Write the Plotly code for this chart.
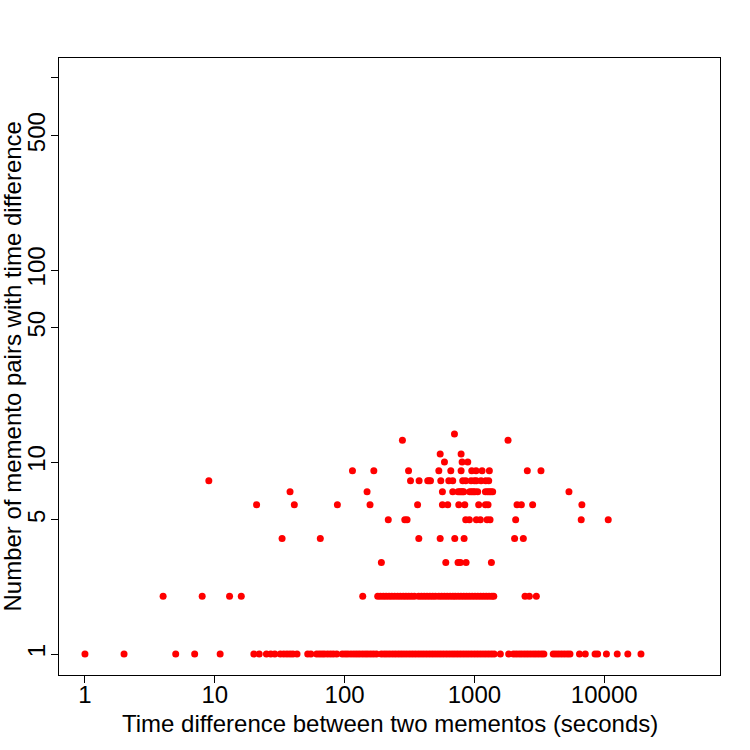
import plotly.graph_objects as go

# Time difference (seconds) for each observed count of memento pairs
count_1 = [1, 2, 5, 7, 11, 20, 22, 25, 27, 29, 32, 34, 36, 38, 40, 43, 52, 55,
           61, 64, 67, 70, 74, 78, 82, 87, 96, 101, 106, 112, 118, 124, 130, 137,
           144, 151, 159, 167, 176, 192, 202, 212, 223, 235, 247, 260, 273, 287,
           302, 318, 334, 351, 369, 388, 408, 429, 451, 474, 498, 524, 551, 579,
           609, 640, 673, 707, 743, 781, 821, 863, 907, 954, 1003, 1054, 1108,
           1165, 1225, 1288, 1354, 1420, 1585, 1837, 2000, 2100, 2210, 2320, 2440,
           2560, 2690, 2830, 2970, 3120, 3280, 3430, 4050, 4250, 4470, 4700, 4940,
           5200, 5450, 6450, 7150, 8500, 8900, 10400, 12600, 15200, 19200]
count_2 = [4, 8, 13, 16, 138, 180, 189, 199, 209, 220, 231, 243, 256, 269, 283,
           297, 312, 328, 345, 372, 391, 411, 432, 454, 477, 501, 532, 559, 588,
           618, 650, 683, 713, 750, 788, 828, 870, 915, 962, 1011, 1063, 1117,
           1174, 1234, 1297, 1363, 1410, 2455, 2650, 3000]
count_3 = [192, 602, 748, 780, 863, 1352]
count_4 = [33, 65, 373, 545, 706, 833, 2040, 2382]
count_5 = [217, 291, 303, 857, 915, 1036, 1112, 1252, 1320, 2079, 6650, 10740]
count_6 = [21, 41, 88, 157, 365, 567, 623, 758, 843, 1079, 1216, 1274, 2130,
           2300, 2810, 6730]
count_7 = [38, 149, 567, 681, 748, 770, 790, 810, 828, 920, 950, 980, 1010, 1060,
           1216, 1260, 1300, 1340, 1383, 5350]
count_8 = [9, 322, 375, 437, 448, 459, 551, 635, 681, 813, 857, 943, 1000, 1036,
           1125, 1222, 1289]
count_9 = [115, 168, 311, 532, 658, 790, 954, 1030, 1146, 1304, 2557, 3257]
count_10 = [588, 804, 889]
count_11 = [545, 790]
count_13 = [279, 1816]
count_14 = [702]

groups = {1: count_1, 2: count_2, 3: count_3, 4: count_4, 5: count_5, 6: count_6,
          7: count_7, 8: count_8, 9: count_9, 10: count_10, 11: count_11,
          13: count_13, 14: count_14}

xs, ys = [], []
for c, vals in groups.items():
    xs += vals
    ys += [c] * len(vals)

x_ticks = [1, 10, 100, 1000, 10000]
x_ticktext = ["1", "10", "100", "1000", "10000"]
y_ticks = [1, 5, 10, 50, 100, 500, 1000]
y_ticktext = ["1", "5", "10", "50", "100", "500", ""]

FONT = "Liberation Sans, Arial, sans-serif"
FS = 24

fig = go.Figure(go.Scatter(
    x=xs, y=ys, mode="markers",
    marker=dict(color="#ff0000", size=7, line=dict(width=0)),
    hoverinfo="x+y"))

fig.update_layout(
    width=750, height=750,
    margin=dict(l=59, r=30, t=58, b=75),
    paper_bgcolor="white", plot_bgcolor="white",
    showlegend=False,
    font=dict(family=FONT, size=FS, color="black"),
    xaxis=dict(type="log", range=[-0.2, 4.892], tickvals=x_ticks, ticktext=x_ticktext,
               ticks="outside", ticklen=7, tickcolor="black", tickwidth=1,
               ticklabelstandoff=-9,
               showline=True, linecolor="black", linewidth=1, mirror=True,
               showgrid=False, zeroline=False,
               tickfont=dict(family=FONT, size=FS, color="black")),
    yaxis=dict(type="log", range=[-0.109, 3.104], tickvals=y_ticks, ticktext=y_ticktext,
               ticks="outside", ticklen=7, tickcolor="black", tickwidth=1,
               ticklabelstandoff=-4,
               showline=True, linecolor="black", linewidth=1, mirror=True,
               showgrid=False, zeroline=False, tickangle=-90,
               tickfont=dict(family=FONT, size=FS, color="black")),
    annotations=[
        dict(text="Time difference between two mementos (seconds)", xref="paper", yref="paper",
             x=0.5, y=0, yshift=-48, showarrow=False, xanchor="center", yanchor="middle",
             font=dict(family=FONT, size=FS, color="black")),
        dict(text="Number of memento pairs with time difference", xref="paper", yref="paper",
             x=0, y=0.5, xshift=-47, showarrow=False, xanchor="center", yanchor="middle",
             textangle=-90, font=dict(family=FONT, size=FS, color="black")),
    ],
)

fig.write_html("out.html")
